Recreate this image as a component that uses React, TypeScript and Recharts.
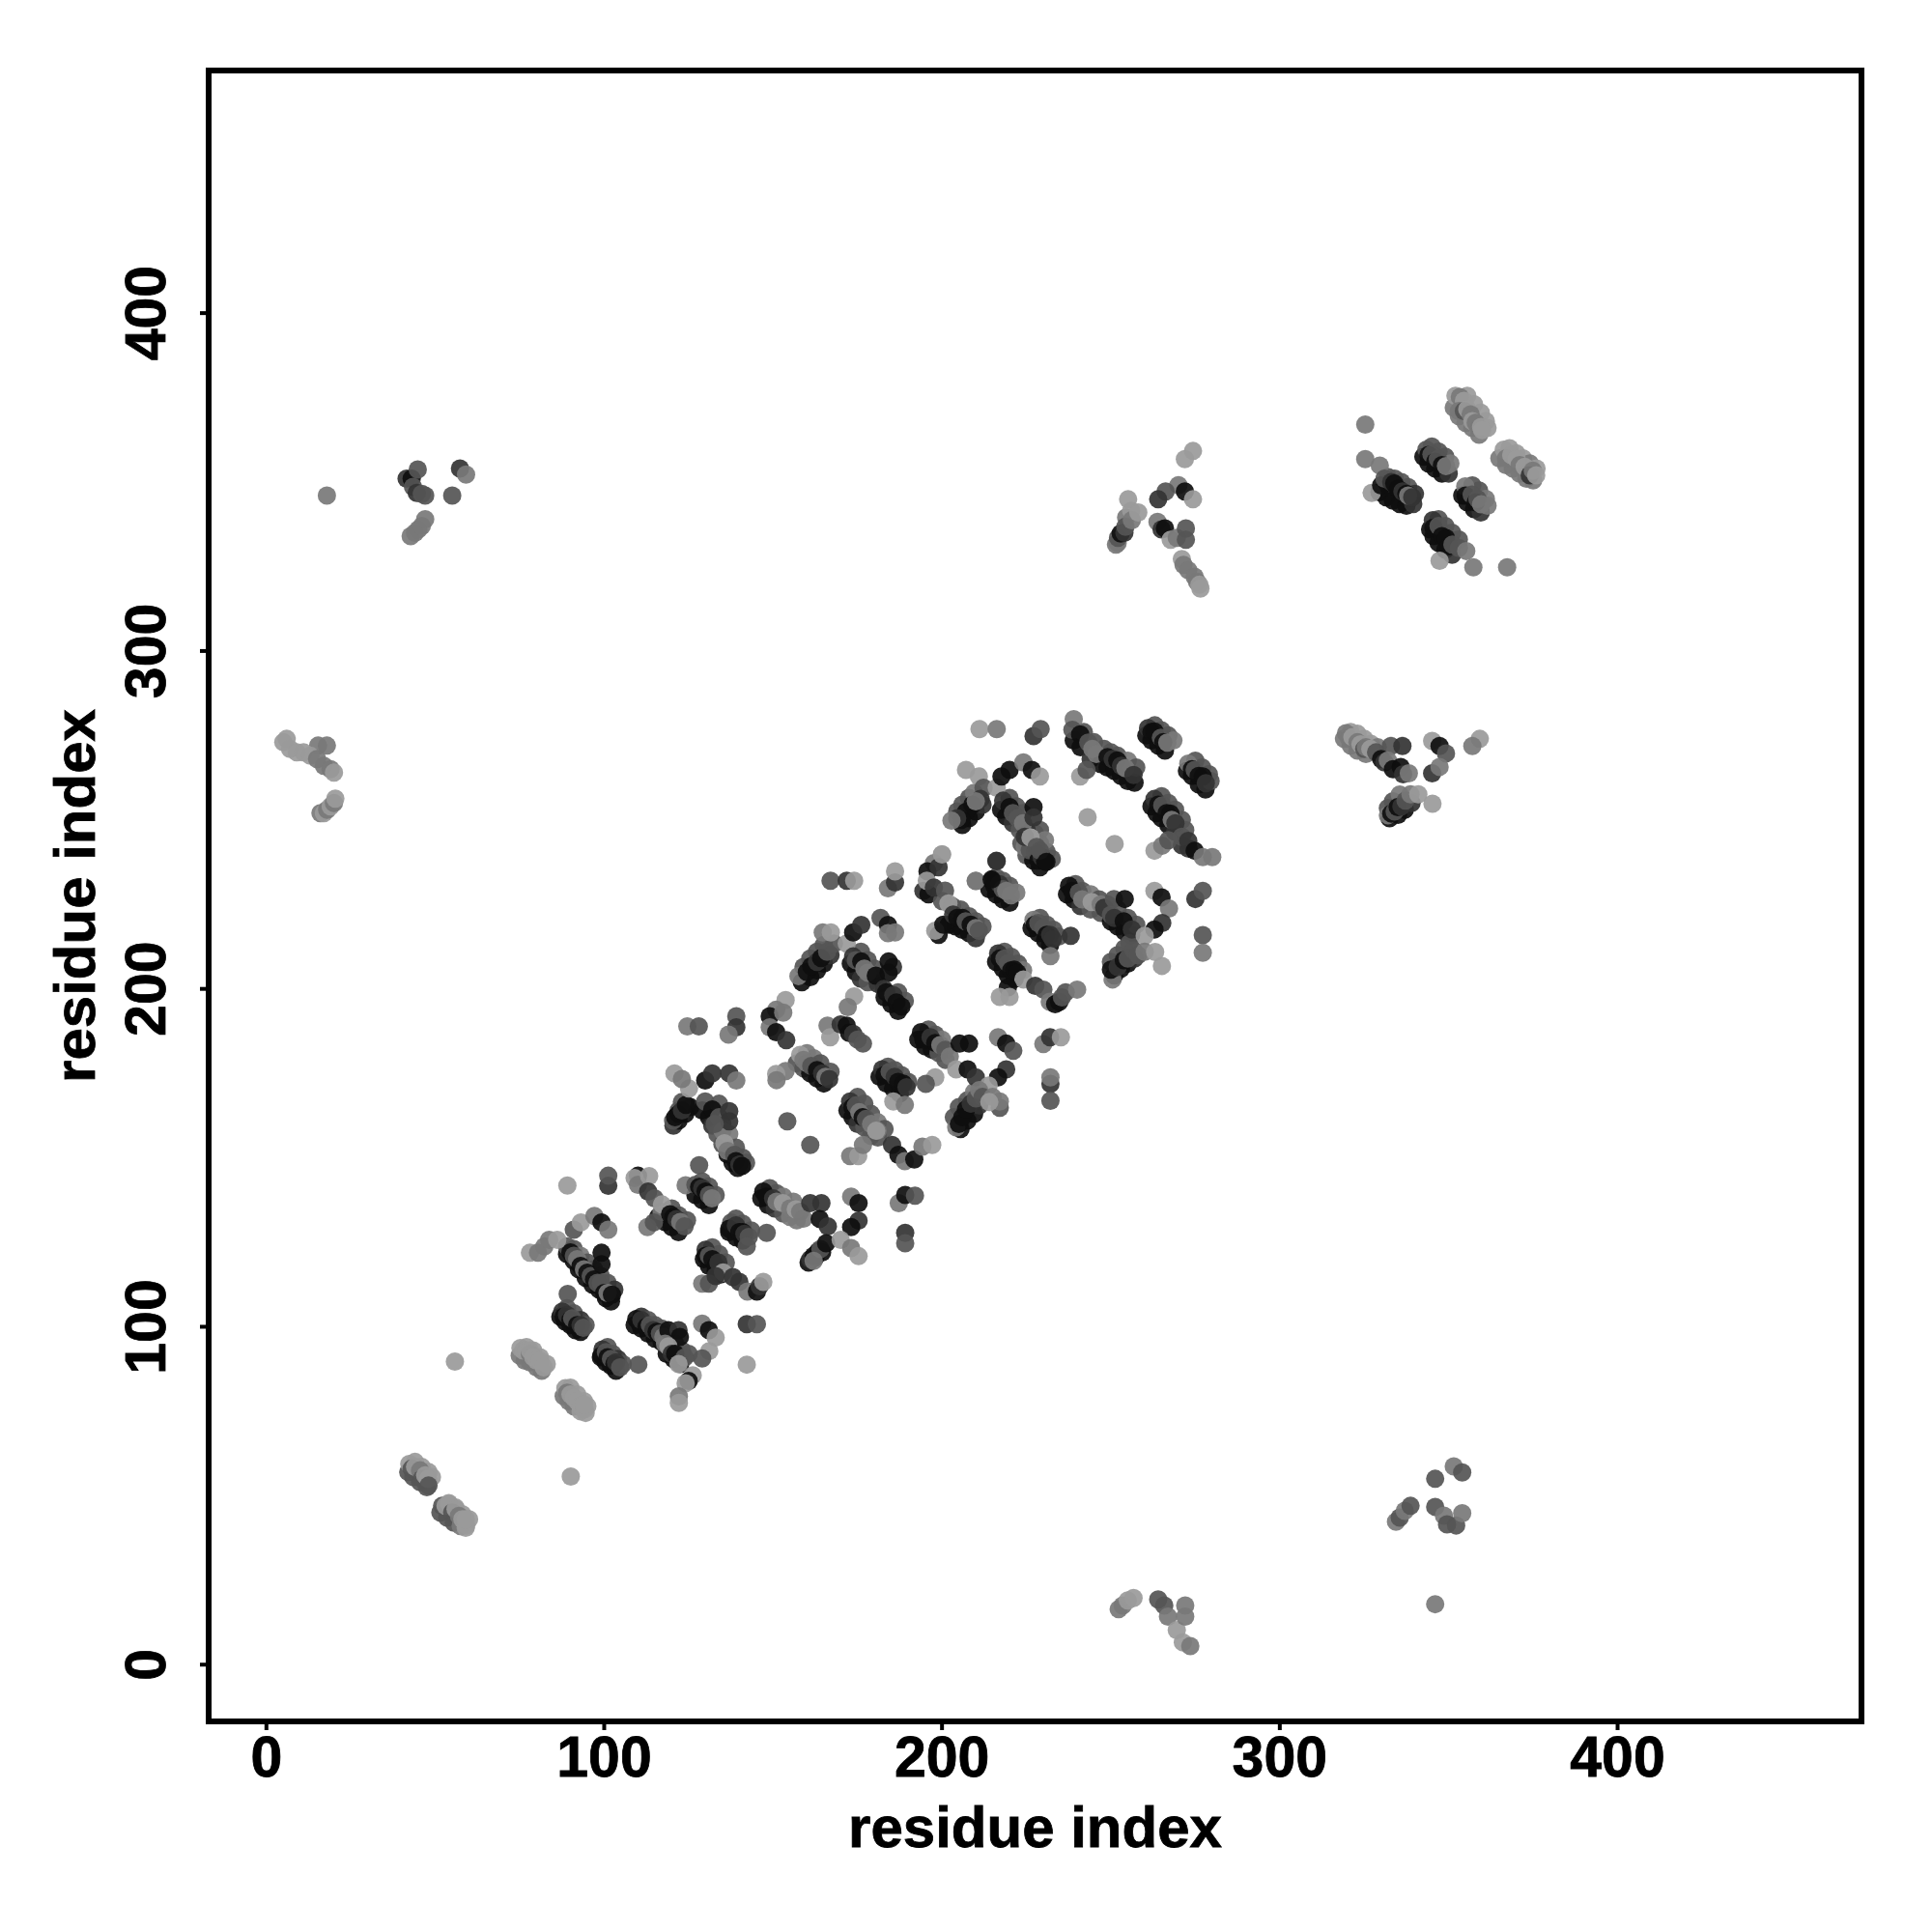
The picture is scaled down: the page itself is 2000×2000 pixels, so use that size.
import { ScatterChart, Scatter, XAxis, YAxis, ReferenceArea, Label } from 'recharts';

type Contact = [number, number, number];

const tickValues = [0, 100, 200, 300, 400];
const axisTitle = 'residue index';
// shade 1 = weakest contact, 5 = strongest
const shades = ['', '#9a9a9a', '#787878', '#555555', '#333333', '#0e0e0e'];

// neighbouring contacts that sit beside the main strands, they get drawn first
const helixUnder: Contact[] = [
  [87, 103, 5], [88.5, 101.5, 5], [90, 100.5, 5], [91.5, 99, 5], [93, 98.5, 5],
  [99, 91, 5], [100.5, 89.5, 5], [102, 88.5, 5], [103.5, 87, 5],
  [109, 100.5, 5], [111, 99.5, 5], [113, 98, 5], [115, 96.5, 5], [117, 95.5, 5],
  [118.5, 92, 5], [120.5, 90.5, 5], [122.5, 89, 5],
  [89, 121.5, 5], [91, 119.5, 5], [92.5, 117, 5], [94.5, 114.5, 5], [96.5, 112.5, 5], [98.5, 111, 5], [100.5, 108.5, 5], [102, 107.5, 5],
  [116, 132.5, 5], [118, 131, 5], [120, 129.5, 5], [122, 128, 5],
  [127, 139, 5], [129, 137.5, 5], [131, 136, 5],
  [137, 128, 5], [139, 126.5, 5], [141, 125.5, 5],
  [129.5, 120, 5], [131, 118, 5], [133, 116.5, 5], [134.5, 115.5, 5],
  [146.5, 138, 5], [148.5, 136, 5], [150.5, 135, 4], [153, 133.5, 3], [155, 132.5, 2], [157, 131.5, 2],
  [160.5, 119, 5], [162.5, 120.5, 5], [164.5, 122, 5],
  [120.5, 159.5, 4], [122, 161, 5], [124, 163, 5], [125.5, 165, 5],
  [129, 164, 5], [131, 162, 5], [132, 159.5, 4], [133.5, 157, 3], [135, 154, 3], [136.5, 151, 5], [138, 148.5, 5], [139.5, 147, 5],
  [157, 178, 3], [159, 176.5, 3], [161, 175, 5], [163, 173.5, 5], [165, 172, 5],
  [172, 164, 5], [173.5, 162, 5], [175, 160, 4], [177, 159, 3], [179, 156.5, 3], [181, 156, 3],
  [158.5, 202, 5], [161, 203.5, 5], [163, 205.5, 5], [165, 207.5, 5], [167, 210, 4],
  [173, 207.5, 5], [174.5, 205, 5], [176, 203, 4], [178, 202, 3], [181, 201.5, 4], [183, 197.5, 5], [185, 195.5, 5], [187, 193.5, 5],
  [181.5, 174, 5], [183.5, 172, 5], [185.5, 170.5, 5], [187.5, 169, 5],
  [193, 185, 5], [195, 183, 5], [197, 182, 5], [199, 181, 3], [201, 179, 3],
  [205.5, 158.5, 5], [207.5, 161, 5], [209.5, 163, 5], [211, 165.5, 4],
  [194.5, 229, 4], [196, 228, 5], [199, 216, 5], [202, 219, 5], [204, 218.5, 5], [206, 217.5, 5], [208, 216.5, 5], [210, 215, 4],
  [214, 229.5, 5], [216, 228, 5], [218, 226.5, 5], [220, 225.5, 5],
  [223.5, 243, 3], [225, 239.5, 3], [227, 238, 5], [229, 236, 5],
  [226.5, 218, 5], [228.5, 216.5, 5], [230.5, 214.5, 5], [232, 213, 5],
  [216, 208, 5], [218, 206, 5], [219.5, 204, 5], [221.5, 203, 5],
  [237, 228, 5], [239, 226.5, 5], [241, 224.5, 4], [244, 223.5, 3], [247, 222.5, 3], [250, 220, 5], [252, 218.5, 5], [254, 217, 5], [256, 216, 5],
  [251, 204, 5], [253, 206, 5], [255, 207.5, 5], [257, 209, 4],
  [206, 248.5, 5], [208, 250.5, 5], [210, 252.5, 5], [212, 254.5, 4],
  [217.5, 253, 5], [219, 251, 5], [221, 249, 4], [223, 247, 3], [225, 243, 4], [227, 241, 5],
  [239, 273.5, 5], [241, 271.5, 5], [244, 268, 4], [247, 266.5, 5], [249, 265.5, 5], [251, 264.5, 5], [253, 263, 5], [255, 261.5, 5], [257, 261, 5],
  [260.5, 275, 5], [262, 273.5, 5], [264, 272, 5], [266, 270.5, 5],
  [272.5, 264.5, 5], [274, 263, 5], [276, 260.5, 5], [278, 259, 5],
  [262, 254, 5], [263.5, 252, 5], [265, 250.5, 5], [267, 248.5, 5], [269, 246.5, 4], [271, 242.5, 4], [273, 241.5, 4],
];

const helixOver: Contact[] = [
  [89, 105.5, 3], [91, 104, 3], [93, 102, 4], [94.5, 100.5, 3],
  [101, 94, 3], [102.5, 92, 3], [104, 90.5, 4], [105.5, 89, 3],
  [111, 103, 4], [113, 102, 3], [115, 100.5, 3], [117, 99.5, 3],
  [121, 95, 3], [123, 93, 3], [125, 92, 3],
  [91, 123, 3], [93, 121, 2], [95, 119, 3], [97, 117, 3], [99, 115, 3], [101, 113, 3], [103, 111, 4],
  [117, 134, 2], [120, 135, 3], [122, 133, 3], [124.5, 131.5, 3],
  [129, 143, 3], [131, 141.5, 3], [133, 139, 3],
  [139, 132, 3], [141, 130.5, 3], [143.5, 128.5, 3],
  [132, 123.5, 3], [134, 121.5, 3], [136, 119, 3],
  [149, 141, 3], [151, 139.5, 3], [153, 138.5, 2], [156, 137, 2],
  [122, 164, 3], [123, 166.5, 3],
  [134, 166, 3], [135, 160, 3], [137, 157, 2], [139, 153, 3], [141, 150, 3], [142, 148.5, 3],
  [160, 181, 2], [162, 179.5, 2], [164, 178, 3], [167, 175.5, 3],
  [175, 168, 3], [177, 166, 3], [179, 163, 3], [181, 160.5, 2], [183, 158.5, 3],
  [159, 206.5, 3], [161, 209, 3], [163, 211, 3], [165, 213, 3],
  [176, 211, 3], [178, 208.5, 3], [180, 206, 3], [185.5, 206.5, 4], [187, 199, 3], [189, 196.5, 3],
  [184, 177, 3], [186, 176, 3], [188, 174.5, 3], [190, 172.5, 3],
  [196, 188, 3], [198, 186.5, 3], [200, 185, 2],
  [203.5, 162, 3], [205, 165, 3], [207.5, 167, 3], [209.5, 169.5, 2],
  [200, 226, 3], [203, 224.5, 3], [205.5, 223.5, 3], [208, 221.5, 3], [210, 220, 3], [212, 218.5, 3],
  [216, 233, 3], [218, 232, 3], [220, 230.5, 3], [222, 228.5, 2],
  [227.5, 246, 3], [229, 243, 3], [231, 240.5, 3], [232.5, 238.5, 3],
  [229, 221, 3], [231, 219, 3], [233, 217.5, 3], [234.5, 215.5, 3],
  [218.5, 211, 3], [220.5, 209.5, 3], [222.5, 207.5, 3], [224, 205.5, 2],
  [239.5, 231, 3], [241.5, 229, 3], [244, 228, 2], [246.5, 226.5, 3], [249, 225, 3], [252, 223.5, 3], [255, 221, 3], [257.5, 219, 3],
  [250, 208, 3], [252, 210, 3], [254, 212, 3], [255.5, 213.5, 3],
  [204.5, 252.5, 3], [206, 254.5, 3], [208, 256.5, 3], [209.5, 258, 2],
  [220, 256.5, 3], [222, 254, 3], [224, 252, 3], [229, 247, 3], [230.5, 244, 2],
  [242, 276, 3], [245, 273, 3], [248, 271, 3], [250, 270, 3], [252, 269, 3], [255, 267.5, 2], [257.5, 265.5, 3],
  [263, 278, 3], [265, 276.5, 3], [267, 275, 3], [268.5, 273.5, 2],
  [275, 267.5, 3], [277, 265.5, 3], [279, 263.5, 3], [279.5, 261.5, 3],
  [265, 257, 3], [267, 255, 3], [269, 253, 3], [271, 250, 3], [272, 247, 3],
];

const outerUnder: Contact[] = [
  [329.5, 347, 5], [331.5, 345.5, 5], [333.5, 344.5, 5], [335.5, 343.5, 5], [337.5, 343, 5], [339.5, 343.5, 4],
  [342.5, 357.5, 5], [344, 355.5, 5], [346, 354, 5], [348, 352.5, 5], [350, 352.5, 4],
  [354, 346, 5], [355.5, 344, 5], [357.5, 342, 5], [359.5, 341, 4],
  [344.5, 336, 5], [345.5, 334, 5], [347, 332, 5], [349, 330, 5], [351, 328.5, 4],
  [351.5, 372, 2], [353, 369.5, 2], [355, 367.5, 2], [357, 366, 2], [359, 364, 2],
  [365, 357, 2], [367, 355, 2], [369, 354, 2], [371, 352.5, 2], [373, 351, 2], [375, 350.5, 2],
  [42, 57, 3], [43.5, 55.5, 3], [45.5, 54, 3], [47.5, 52.5, 3],
  [51.5, 45, 3], [53.5, 43.5, 3], [55.5, 42, 3], [57.5, 41, 2], [59, 40.5, 1],
  [75, 91.5, 2], [76.5, 90, 2], [78, 89.5, 2], [80, 88, 2], [81.5, 87, 2],
  [88, 79.5, 2], [89.5, 78, 2], [91, 76.5, 2], [93, 75, 1], [94.5, 74.5, 1],
  [251.5, 331.5, 2], [319, 274, 2], [321, 272, 2], [323, 270.5, 2], [325.5, 269.5, 2],
  [332.5, 250.5, 5], [335, 251.5, 5], [337, 253, 5], [339, 255, 4],
];

const outerOver: Contact[] = [
  [332, 351.5, 3], [334, 351, 3], [336, 350, 3], [338, 348.5, 3], [340, 346.5, 4],
  [345, 360.5, 3], [347, 359, 3], [349, 357.5, 3], [350.5, 355.5, 2],
  [357, 349, 3], [359, 347.5, 3], [361, 345, 2], [361.5, 343, 2],
  [347, 339, 3], [349, 337, 3], [351, 335, 3], [353, 333, 3],
  [355.5, 375.5, 1], [357.5, 373, 1], [359.5, 370.5, 1], [361, 368, 1], [361.5, 366, 1],
  [368, 360, 1], [370, 358.5, 1], [372, 357, 1], [374, 355.5, 2], [376, 354, 1],
  [44, 60, 1], [46, 58.5, 1], [48, 57, 1], [49, 55.5, 1],
  [54, 47.5, 1], [56, 46.5, 1], [58, 44.5, 1], [60, 43, 1],
  [77, 94, 1], [79, 93, 1], [81, 91, 1], [83, 89, 1],
  [90, 82, 1], [92, 80, 1], [94, 78, 1], [95, 76.5, 1],
  [254.5, 339.5, 2], [256, 341.5, 1],
  [321, 276, 1], [323, 275.5, 1], [325, 274, 1], [327, 272.5, 1], [329, 271.5, 2],
  [332, 253.5, 3], [333.5, 255.5, 3], [335.5, 257.5, 2],
];

const farLeft: Contact[] = [
  [17.9, 346, 2], [15.3, 272, 2], [17.9, 272, 2], [5, 273, 1], [6, 274, 1], [7, 271, 1], [9, 270, 1], [11, 270, 1], [13, 269, 1],
  [15, 268, 2], [17, 266, 2], [19, 265, 2], [20, 264, 1], [16, 252, 2], [17, 252, 1], [18, 253, 2], [19, 254, 1], [20, 255, 2], [20.4, 256.3, 1],
  [41.5, 351, 4], [43, 351, 5], [44.8, 353.7, 3], [57.3, 354, 4], [59.1, 352.2, 2], [55, 346, 3], [47, 346, 3], [43.4, 348.6, 3], [44.5, 346.8, 4], [46, 346.5, 3],
  [42.7, 334, 2], [44, 335, 2], [45, 336, 2], [46, 337, 2], [47, 339, 2],
];

const lowerLeft: Contact[] = [
  [42.3, 59.4, 1], [43, 58, 3], [44, 58.5, 1], [45.5, 57.5, 2], [46, 55, 3], [47, 56, 1], [47.8, 55, 1], [48, 53, 3], [55.8, 89.7, 1],
  [52, 47, 3], [53, 47, 1], [54, 47.8, 1], [55, 45, 3], [56, 46, 1], [57, 44, 2], [58, 43, 1], [59.1, 41.2, 1], [59, 43, 1], [90.1, 55.7, 1],
];

const helixLow: Contact[] = [
  [75.2, 93.7, 1], [76, 93, 1], [77, 93, 1], [78, 92, 2], [78, 93, 1], [79, 91, 1], [80, 90, 1], [81, 90, 1], [82.1, 88, 1],
  [88.5, 81.8, 1], [89, 80.5, 2], [90, 80, 1], [91, 79, 1], [92, 78, 1], [93, 76.5, 1], [94.2, 75.6, 1], [94, 77, 1],
  [99.5, 93.3, 4], [99.2, 91.5, 5], [100.5, 92.5, 3], [101, 91, 5], [102, 90.5, 3], [103, 89, 5], [103.5, 89.5, 4], [104.7, 88, 3], [110.1, 88.8, 3],
  [87.6, 104.5, 4], [88, 103, 5], [89, 103.5, 4], [90, 102, 5], [90.5, 102.5, 3], [92, 100.5, 5], [93, 100.5, 4], [93.8, 99.7, 3], [89.2, 109.7, 3],
  [89, 123.8, 3], [90, 122, 5], [91, 121, 3], [92, 120, 2], [93, 118, 5], [94, 117, 2], [95, 116, 5], [96, 115, 3], [97, 114, 5], [98, 113, 3], [99, 113, 3], [100, 110, 5], [101, 110, 2], [102.3, 109.5, 5],
  [99.2, 121.9, 5], [99.2, 118.5, 5], [78, 121.9, 1], [80.4, 121.9, 2], [82.3, 123.8, 2], [83.7, 125.7, 2], [86.1, 125.7, 1],
  [91, 128.7, 3], [93.1, 130.9, 1], [97.1, 132.8, 2], [99.2, 130.9, 5], [101.2, 128.7, 2], [89.1, 141.8, 1], [101.2, 141.7, 4], [101.2, 144.7, 3],
  [109.5, 102.3, 5], [110.5, 101, 5], [111, 102, 4], [112.5, 100, 5], [113.5, 100.5, 3], [114.5, 99, 4], [115.5, 98.5, 5], [116.5, 98, 3], [117.5, 97, 2], [119, 99, 5], [122, 99, 4], [122.4, 97, 5],
  [118, 95, 2], [119, 94.2, 1], [120, 92, 4], [121, 92, 5], [123.8, 90.9, 3], [122, 89, 1],
  [129, 100.9, 2], [131, 99, 5], [133, 96.8, 1], [131.1, 92.8, 1], [129, 90.6, 3], [142.2, 100.8, 4], [145.2, 100.8, 3], [142.2, 88.8, 1],
  [126.2, 85.6, 1], [125, 84, 5], [124.1, 83.3, 1], [122.1, 79.4, 2], [122.1, 77.5, 1],
];

const helixMid: Contact[] = [
  [110, 144.7, 5], [109, 144, 1], [110, 142, 2], [113.3, 144.6, 1], [113, 140, 4], [114.9, 138, 3], [117.1, 136.2, 1], [119.5, 133.3, 5], [120.5, 132.5, 5], [121.4, 131.9, 4], [122.5, 131, 2], [123.8, 129.7, 3],
  [112.8, 129.5, 2], [114.7, 130.9, 3], [128.1, 147.8, 3], [124.1, 141.9, 2], [127, 142, 3], [128.1, 141.4, 5], [129, 141, 4], [130, 140, 5], [131, 139, 3], [131.9, 138, 2],
  [137.6, 130.9, 3], [137, 129, 5], [139, 130, 4], [140, 128, 5], [141, 128, 5], [141.5, 127.5, 4], [142.8, 126.6, 3], [148.1, 127.8, 3], [142.2, 123.8, 3],
  [130, 122.8, 4], [130, 121, 5], [131, 121, 3], [132, 120, 5], [133, 118, 5], [133.8, 119, 4], [135.2, 116.1, 1], [138.1, 114.7, 4], [140, 113.3, 4], [142.4, 110.4, 2], [145.2, 110.4, 5], [146, 112, 4], [147.1, 113.3, 1], [129, 112.8, 2], [131, 112.8, 3], [133, 115, 4],
  [147.1, 140, 5], [148, 138.5, 5], [150, 138, 4], [151, 137, 2], [152.9, 136.6, 1], [155, 135, 2], [156.7, 134.7, 1], [158, 134, 2], [159, 132, 2], [161, 136.6, 4], [164.3, 136.6, 4], [163.8, 131.9, 5], [166.2, 129.7, 4],
  [173.1, 138.5, 2], [175.3, 136.6, 5], [175.3, 131.4, 4], [173.1, 129.5, 5], [187.2, 136.6, 2], [189.1, 139, 5], [192, 138.8, 3], [189.1, 127.8, 4], [189.1, 124.7, 3],
  [161, 120, 4], [163.3, 122.3, 5], [162, 121, 5], [164, 123, 3], [165.7, 124.7, 5], [170, 125.7, 1], [173.1, 123.3, 2], [175.3, 120.9, 1],
  [120.4, 161, 3], [121, 162, 5], [122, 163, 5], [123, 164, 4], [124.2, 165.7, 5], [125.1, 170.5, 1], [120.8, 175, 1], [123, 173.3, 2], [129.9, 172.9, 5], [132, 175, 4], [137, 175, 4], [139.1, 172.9, 2],
  [129.9, 166.7, 3], [132, 164.3, 5], [134, 162, 3], [135, 158, 2], [137, 163.8, 4], [137, 160.8, 4], [132.7, 160, 3], [135.6, 154.3, 1], [136.5, 152, 2], [138.5, 150.9, 3], [139, 149, 5], [140, 148, 4], [140.8, 147.6, 5],
  [154.2, 160.8, 3], [161, 153.8, 3], [124.6, 188.9, 2], [128, 188.9, 3], [139.1, 191.9, 3], [139.1, 188.6, 4], [136.8, 186.5, 2],
  [158, 180.5, 1], [159, 179, 2], [160, 178, 2], [161.3, 177.2, 3], [163, 176, 5], [164.5, 175, 4], [165.5, 174, 2], [166.6, 173.3, 4], [153.7, 175.7, 2], [150.9, 174.8, 1], [151, 173, 2],
  [172.8, 166.7, 4], [173.5, 165, 5], [174.5, 165.5, 3], [175.5, 163.5, 2], [176.5, 162, 5], [177.5, 161.5, 3], [179, 160, 2], [180.9, 158, 2], [172.8, 150.5, 2], [175.2, 150.5, 1], [176.6, 153.8, 2],
  [185.2, 153.8, 4], [187.1, 150.9, 5], [189, 149, 2], [191.8, 149.5, 5], [194.2, 153.3, 2], [197.1, 153.8, 1], [180.5, 158, 1], [162, 119.5, 2],
];

const helixUpper: Contact[] = [
  [167, 232, 3], [171.8, 232, 4], [174, 232, 1], [184, 229.8, 2], [186.1, 231.5, 4], [186.1, 234.8, 1],
  [157.5, 203.8, 2], [160, 205, 5], [161.3, 206.7, 5], [163, 208, 4], [164.2, 209.1, 5], [166, 211, 3], [168, 213.4, 3], [164.7, 216.7, 2], [167.1, 216.7, 1], [171.8, 213.4, 1], [173.7, 216.7, 5], [176.1, 218.9, 4],
  [181.8, 221, 3], [184, 218.9, 5], [184, 216.5, 2], [186.1, 216.7, 2],
  [173.7, 209.6, 4], [174.5, 208.5, 3], [176.1, 208.1, 5], [177, 206, 2], [178, 204.8, 2], [180.4, 203.9, 5], [184.2, 208.1, 5], [184.2, 204.8, 5], [182.8, 200, 4], [183.5, 199, 5], [185.6, 198.1, 4], [186.5, 196, 5], [188, 194.8, 5],
  [174, 197.8, 1], [172.1, 194.6, 2], [153.7, 196.7, 1], [150.9, 193.8, 2], [149, 191.9, 5], [153, 193, 2], [149, 188.6, 2], [150.9, 187.2, 5], [153.9, 184.8, 4],
  [166.1, 189.1, 2], [166.9, 185.7, 1], [170, 189.5, 4], [171.8, 189.1, 5], [172.5, 187, 5], [173.7, 186.7, 4], [175, 185, 3], [176.6, 183.8, 3],
  [182.3, 176.2, 4], [183, 174.5, 5], [184.5, 175.5, 3], [186, 174, 4], [187, 172.5, 5], [188.5, 172, 5], [189.5, 170.9, 4], [185.6, 166.7, 1], [189, 165.7, 2],
  [193.8, 187.2, 5], [194.5, 185, 5], [196.6, 185.7, 4], [198, 184, 5], [199.5, 183.4, 2], [201, 182, 3], [202.3, 180, 2], [205.2, 183.8, 5], [208, 183.8, 5], [204.2, 176.2, 1], [207.6, 176.2, 5], [210, 173.8, 4],
  [216.6, 185.7, 2], [219, 183.8, 5], [221.1, 181.7, 3], [219, 176.2, 4], [216.6, 173.8, 5], [213.8, 171.4, 1], [217.1, 164.8, 3], [217.1, 166.7, 2],
  [230, 183.7, 2], [232, 185.7, 4], [235.2, 185.7, 1], [232.1, 171.9, 4], [232.1, 173.8, 2], [232.1, 166.9, 3],
  [198, 173.8, 1], [195.2, 171.9, 3], [204.2, 159, 2], [205, 160, 5], [206, 162, 5], [207.1, 164.3, 5], [208.5, 166, 4], [210, 167.6, 3], [211, 170, 2], [212, 168, 3], [215, 168, 2], [214, 166.5, 1],
  [200, 239.8, 1], [197.6, 237.2, 2], [195.7, 234.8, 5], [199, 236, 4], [195.5, 232, 1], [197.6, 230, 4], [200.9, 229.1, 3], [201.9, 225.3, 1], [198, 217.2, 1], [200.4, 219, 5], [203.3, 222, 4], [204.5, 221, 5], [206.1, 221, 5], [207, 220, 3], [208.5, 219, 5], [210, 218, 2], [210.9, 217.2, 3],
  [216.1, 237.9, 4], [210, 232, 2], [214.7, 232, 5], [215.5, 230.5, 5], [217, 231, 4], [218, 229.5, 3], [219, 229, 2], [220.4, 227.7, 2],
  [225, 247, 4], [226.2, 244.8, 1], [224.5, 242, 2], [226, 241, 3], [227.6, 240.5, 3], [228.5, 238, 5], [229.5, 239, 4], [230.5, 237.7, 5],
  [227.1, 220.4, 2], [227.5, 219, 5], [228.5, 219.5, 3], [230, 218.1, 3], [231, 216, 5], [232, 216, 4], [232.8, 214.7, 4], [238.1, 215.7, 4], [232.1, 209.7, 2],
  [216.6, 210.5, 4], [217.1, 209, 5], [218.5, 209, 3], [219.5, 207.6, 3], [220.5, 205.5, 5], [221.4, 205.7, 5], [222.3, 204.8, 5], [224.1, 202.8, 1], [219.5, 200.4, 5], [217.1, 197.6, 1], [220, 197.6, 1], [227.6, 200.9, 4], [230, 199.8, 3], [231.9, 196.2, 2], [233.5, 195.5, 5], [234.7, 196.1, 5], [235.5, 197.5, 3], [236.6, 199, 3], [240, 199.8, 2],
  [237.6, 230.5, 5], [238.5, 229, 5], [240.5, 228.5, 3], [241.5, 226.5, 2], [244.3, 225.7, 1], [247, 225, 2], [248, 224, 4], [250.9, 226.6, 3], [254.1, 226.6, 5], [250, 221.9, 3], [251, 221, 4], [253.8, 220, 5], [256.2, 217.6, 4],
  [262.9, 229, 1], [265, 227.1, 5], [267.2, 223.8, 2], [265.2, 219.5, 4], [262.9, 217.6, 5], [260, 215.7, 1], [275, 226.6, 4], [277.2, 229, 3], [277.2, 215.9, 3], [277.2, 210.7, 2],
  [250.5, 202.8, 2], [250, 205.7, 5], [252, 206.5, 4], [253.8, 208.5, 5], [255, 209, 3], [256.7, 211.4, 3], [258, 210, 3], [260, 211, 2], [263.1, 210.9, 1], [265.1, 206.8, 1],
];

const helixTop: Contact[] = [
  [200, 239.8, 1], [207.1, 264.8, 1], [210.9, 262.9, 1], [212.3, 259.5, 3], [216.2, 259.5, 1], [220, 264.8, 5], [217.6, 262.9, 5], [224.1, 267, 2], [226.6, 264.8, 5], [229, 262.9, 1],
  [211.4, 256.2, 4], [209, 254.5, 5], [207.1, 252.4, 5], [205.7, 250, 5], [204.5, 250.5, 4], [210, 255.5, 2], [202.8, 249.8, 2],
  [218.1, 255.7, 4], [220, 253.8, 5], [221, 252, 3], [222.4, 250.5, 3], [224, 249, 2], [227.1, 253.8, 5], [227.1, 250.7, 4], [224.5, 245, 4], [226.2, 244.8, 1], [228, 242, 3], [229, 240.9, 3], [230.9, 237.6, 5],
  [211.1, 276.9, 1], [216.2, 276.9, 2], [227.1, 274.8, 4], [229.2, 276.9, 3], [239, 279.8, 2], [238.6, 276.7, 3], [240.9, 275.3, 5], [243.3, 272.9, 3], [244.5, 271, 2], [245.7, 269.5, 2],
  [240.9, 262.9, 1], [242.8, 264.8, 3], [249, 268.6, 5], [250.5, 268, 4], [251.9, 267.6, 5], [253, 266, 4], [254.3, 265.3, 2], [256.7, 263.3, 4],
  [261, 277.2, 4], [262, 276, 5], [262.9, 276.2, 5], [264.8, 274.3, 3], [265.5, 273, 5], [266.7, 272.9, 2],
  [272.9, 266.7, 2], [274, 265, 5], [274.8, 264.8, 3], [276, 263, 5], [277.2, 262.9, 5], [278.1, 260.9, 4],
  [262.9, 256.2, 4], [264, 254.5, 5], [265.2, 254.3, 3], [266.5, 252, 5], [267.6, 251.9, 5], [268, 250, 2], [269.1, 249, 4], [271, 245, 3], [272.9, 243.8, 4], [274.8, 240.9, 5], [277.2, 239, 2], [280, 239, 2], [262.9, 240.9, 1], [265.2, 242.4, 2], [267, 244, 3], [243.1, 250.8, 1], [251.1, 242.9, 1],
  [216.2, 237.8, 4], [210, 231.9, 2], [214.7, 232.4, 5],
];

const upperClusters: Contact[] = [
  [274.3, 359.2, 1], [271.9, 356.8, 1], [270, 349.1, 2], [271.9, 347.2, 5], [274.3, 344.9, 1], [266.2, 347.2, 3], [264, 344.9, 4], [255.1, 344.9, 1],
  [252, 332, 2], [252.1, 333.5, 3], [252.9, 334.8, 5], [254, 335, 4], [254.3, 336.8, 3], [256.2, 338.7, 2], [258.1, 341, 1],
  [263.8, 338.2, 2], [265, 336, 4], [266, 336.3, 5], [267.7, 332.9, 1], [269.5, 333.5, 2], [272.2, 332.9, 3], [272.2, 336.3, 3], [271, 327.2, 1], [271.5, 325.5, 2], [272.9, 323.9, 2], [274.8, 322, 2], [275.5, 320.5, 2], [276.2, 319.6, 1], [276.5, 318.5, 1],
  [325.3, 367, 2], [325.3, 356.8, 2], [329.6, 354.9, 2], [327.2, 346.8, 1], [330, 349, 5], [331, 351, 3], [333, 350, 4], [333.9, 349.6, 5], [335, 348, 5], [336.3, 347.2, 4], [337.5, 346.5, 5], [338, 346, 2], [339.2, 345.5, 4],
  [343.4, 359.6, 3], [344, 358, 5], [344.9, 358.2, 3], [346, 356, 5], [346.8, 356.8, 3], [348, 355, 5], [349.2, 354.7, 2],
  [354.9, 348.7, 2], [355, 346, 5], [356.8, 346.3, 3], [358, 344, 5], [358.5, 345, 3], [359.6, 343.4, 2],
  [345.3, 338.7, 4], [345.5, 336.5, 5], [347, 337, 3], [348, 334, 5], [349.2, 333.4, 5], [350, 331, 5], [351.1, 331.5, 3], [353, 330.5, 3], [347.3, 326.7, 1], [355.2, 329.6, 2], [357.3, 324.8, 2], [367.3, 324.8, 2],
  [352, 375.5, 1], [353.3, 375.2, 2], [354.5, 374, 1], [353, 371, 2], [354.5, 371, 3], [355.5, 371.5, 1], [356.5, 370, 2], [357, 368, 1], [358, 367.5, 2], [359, 366, 2], [359.6, 366.3, 1], [359.9, 365.4, 1],
  [366.3, 359.6, 1], [367, 357, 2], [368.5, 358, 1], [370.1, 356.8, 1], [371, 355, 2], [372.5, 354.5, 1], [374, 352, 4], [374.9, 353.4, 2], [375.9, 352, 1],
];

const rightClusters: Contact[] = [
  [319.6, 275.7, 2], [320.5, 274, 2], [321.5, 274.5, 1], [323, 273, 2], [323.9, 272.4, 1], [325, 271, 3], [325.5, 271.5, 2], [326.8, 271, 1], [328.5, 270, 3], [332.9, 271.9, 3], [336.3, 271.9, 4],
  [330, 268, 5], [331, 267, 4], [332, 267.6, 2], [333.5, 265, 5], [335.8, 265.7, 5], [336.5, 263.5, 4], [338.2, 263.8, 2],
  [345.1, 273.4, 1], [347.3, 271.9, 5], [349.2, 269.7, 3], [359.2, 274, 1], [357, 271.9, 2], [345.1, 263.8, 4], [347.3, 265.7, 2],
  [332, 251.4, 2], [333, 251.9, 5], [334, 252.5, 3], [334.9, 253.8, 5], [336, 254, 4], [337.2, 255.7, 3], [338.7, 257.6, 2], [341, 257.6, 1], [345.2, 254.8, 1],
];

const lowerRight: Contact[] = [
  [252.3, 16.4, 2], [253.5, 17.5, 2], [255, 19, 1], [256.7, 19.7, 1], [264, 19.3, 3], [265.8, 17.5, 3], [266.9, 14.2, 2], [269.5, 10.2, 1], [271.3, 6.6, 1], [273.5, 5.5, 2], [272, 17.5, 2], [272, 14.2, 2],
  [351.5, 58.7, 2], [354, 56.9, 3], [346, 55, 3], [334.4, 42.3, 2], [335.5, 43.5, 3], [337, 45.5, 2], [338.7, 47, 3], [346, 46.7, 3], [348.6, 44.1, 2], [349.5, 41.5, 3], [352.2, 41.2, 3], [354, 44.8, 2], [346, 17.9, 2],
];

const clusters = [helixUnder, outerUnder, helixOver, outerOver, farLeft, lowerLeft, helixLow, helixMid, helixUpper, helixTop, upperClusters, rightClusters, lowerRight];
const tickFont = { fontFamily: 'Liberation Sans', fontWeight: 700, fontSize: 59, fill: '#000', stroke: '#000', strokeWidth: 0.8 };
const titleFont = { ...tickFont, fontSize: 60 };

const toPoints = (rows: Contact[]) => rows.map(([x, y, shade]) => ({ x, y, shade }));

function ContactDot(props: any) {
  return <circle cx={props.cx} cy={props.cy} r={9.5} fill={shades[props.payload.shade]} fillOpacity={0.92} />;
}

function XTick({ x, y, payload }: any) {
  return (
    <text x={x} y={y + 46} textAnchor="middle" {...tickFont}>
      {payload.value}
    </text>
  );
}

function YTick({ x, y, payload }: any) {
  const px = x - 34;
  return (
    <text x={px} y={y} textAnchor="middle" transform={`rotate(-90 ${px} ${y})`} {...tickFont}>
      {payload.value}
    </text>
  );
}

export default function App() {
  return (
    <div style={{ position: 'absolute', left: 0, top: 0, background: '#fff' }}>
      <ScatterChart width={2000} height={2000} margin={{ top: 73, right: 73, left: 0, bottom: 0 }}>
        <XAxis
          type="number"
          dataKey="x"
          domain={[-17.1, 472.2]}
          ticks={tickValues}
          height={218}
          axisLine={false}
          tickSize={9}
          tickLine={{ stroke: '#000', strokeWidth: 4 }}
          tick={<XTick />}
          interval={0}
        >
          <Label value={axisTitle} position="insideBottom" offset={88} {...titleFont} />
        </XAxis>
        <YAxis
          type="number"
          dataKey="y"
          domain={[-16.8, 471.8]}
          ticks={tickValues}
          width={216}
          axisLine={false}
          tickSize={9}
          tickLine={{ stroke: '#000', strokeWidth: 4 }}
          tick={<YTick />}
          interval={0}
        >
          <Label value={axisTitle} angle={-90} position="insideLeft" offset={77} style={{ textAnchor: 'middle' }} {...titleFont} />
        </YAxis>
        <ReferenceArea x1={-17.1} x2={472.2} y1={-16.8} y2={471.8} fill="none" stroke="#000" strokeWidth={6} />
        {clusters.map((rows, i) => (
          <Scatter key={i} data={toPoints(rows)} shape={<ContactDot />} isAnimationActive={false} />
        ))}
      </ScatterChart>
    </div>
  );
}
